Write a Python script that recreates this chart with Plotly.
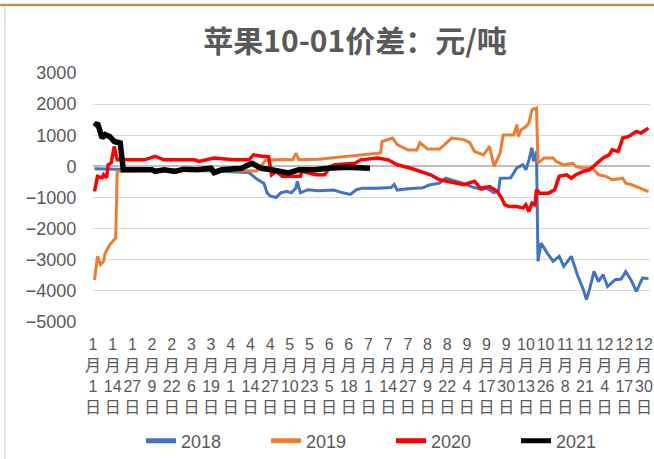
import plotly.graph_objects as go

# ---- data (day-of-year index, 0 = Jan 1) ----
tick_labels = ["1月1日", "1月14日", "1月27日", "2月9日", "2月22日", "3月6日", "3月19日",
               "4月1日", "4月14日", "4月27日", "5月10日", "5月23日", "6月5日", "6月18日",
               "7月1日", "7月14日", "7月27日", "8月9日", "8月22日", "9月4日", "9月17日",
               "9月30日", "10月13日", "10月26日", "11月8日", "11月21日", "12月4日",
               "12月17日", "12月30日"]
tick_days = [13 * i for i in range(len(tick_labels))]

days_2018 = [1, 18, 37, 57, 77, 93, 103, 108, 113, 115, 117, 121, 124, 128, 131, 134, 135, 137,
             142, 149, 159, 165, 170, 174, 178, 188, 197, 199, 201, 208, 218, 222, 229, 233, 237,
             244, 250, 257, 260, 265, 268, 269, 276, 280, 284, 286, 288, 290, 291, 293, 294, 296,
             300, 304, 308, 311, 316, 320, 324, 326, 328, 331, 334, 337, 340, 345, 349, 352, 356,
             359, 363, 367]
vals_2018 = [-80, -100, -120, -110, -150, -170, -200, -400, -550, -850, -950, -1000, -850, -800,
             -850, -700, -480, -850, -750, -780, -760, -850, -900, -750, -700, -700, -680, -580,
             -760, -720, -690, -600, -540, -380, -430, -540, -650, -750, -700, -850, -760, -380,
             -370, -50, 50, -110, 200, 600, 160, 480, -3050, -2460, -2780, -3050, -2890, -3210,
             -2890, -3480, -3960, -4280, -3960, -3370, -3700, -3480, -3860, -3640, -3620, -3380,
             -3700, -4020, -3590, -3600]

days_2019 = [1, 3, 5, 7, 8, 11, 13, 15, 16, 37, 70, 96, 108, 111, 114, 123, 132, 134, 136, 149,
             162, 175, 190, 191, 198, 201, 208, 214, 216, 221, 229, 231, 237, 245, 249, 252, 258,
             262, 265, 269, 271, 278, 280, 281, 283, 286, 288, 290, 293, 294, 298, 304, 306, 311,
             317, 319, 324, 330, 334, 339, 343, 350, 352, 356, 361, 367]
vals_2019 = [-3650, -2890, -3160, -3050, -2790, -2520, -2410, -2300, -160, -130, -120, -130, -150,
             0, 200, 220, 210, 430, 210, 230, 300, 350, 430, 800, 910, 700, 530, 530, 760, 560,
             560, 640, 910, 860, 760, 480, 370, 640, 0, 430, 1010, 1010, 1340, 960, 1180, 1280,
             1390, 1820, 1870, 100, 270, 270, 160, 50, 100, 0, -60, -60, -270, -320, -430, -380,
             -540, -590, -700, -810]

days_2020 = [1, 3, 6, 7, 9, 10, 12, 14, 16, 34, 41, 47, 67, 70, 80, 93, 103, 106, 113, 116, 118,
             121, 125, 137, 138, 147, 153, 157, 160, 173, 177, 188, 195, 201, 210, 216, 223, 229,
             239, 245, 252, 256, 262, 267, 270, 272, 275, 280, 284, 286, 288, 290, 292, 293, 295,
             301, 305, 308, 313, 316, 319, 324, 328, 332, 337, 341, 343, 347, 350, 354, 359, 362,
             367]
vals_2020 = [-800, -320, -370, -270, -370, 50, 110, 640, 210, 210, 320, 210, 210, 160, 270, 210,
             210, 370, 320, 320, -270, -160, -320, -320, -160, -270, -270, 0, 50, 100, 210, 270,
             210, 50, -60, -160, -270, -430, -540, -590, -480, -700, -650, -800, -1020, -1230,
             -1290, -1290, -1340, -1230, -1450, -1180, -1230, -750, -860, -860, -750, -320, -270,
             -380, -270, -160, -110, 50, 270, 370, 530, 480, 910, 960, 1120, 1070, 1230]

days_2021 = [1, 3, 6, 8, 11, 14, 18, 19, 20, 39, 41, 47, 54, 60, 69, 78, 80, 85, 93, 98, 105,
             111, 118, 129, 136, 147, 155, 168, 183]
vals_2021 = [1280, 1390, 910, 1020, 960, 800, 750, 0, -110, -110, -160, -110, -160, -90, -110,
             -60, -200, -110, -80, -60, 100, -60, -110, -210, -110, -110, -60, -30, -60]

series = [
    ("2018", days_2018, vals_2018, "#4472C4", 3),
    ("2019", days_2019, vals_2019, "#ED7D31", 3),
    ("2020", days_2020, vals_2020, "#FF0000", 3.5),
    ("2021", days_2021, vals_2021, "#000000", 5.5),
]

fig = go.Figure()
for name, d, v, c, w in series:
    fig.add_trace(go.Scatter(x=d, y=v, mode="lines", name=name, showlegend=False,
                             line=dict(color=c, width=w)))
# legend entries (uniform thick sample lines as in the original legend)
for name, d, v, c, w in series:
    fig.add_trace(go.Scatter(x=[None], y=[None], mode="lines", name=name,
                             line=dict(color=c, width=5)))


def vertical(label):
    m, rest = label.split("月")
    day = rest.replace("日", "")
    return f"{m}<br>月<br>{day}<br>日"


txt_color = "#595959"
W, H = 654, 459
L, R, T, B = 93, 4, 73, 137
pw, ph = W - L - R, H - T - B


def px(x):
    return (x - L) / pw


def py(y):
    return (H - B - y) / ph


fig.update_layout(
    width=W, height=H,
    margin=dict(l=L, r=R, t=T, b=B, autoexpand=False),
    paper_bgcolor="white", plot_bgcolor="white",
    font=dict(family="Liberation Sans, Noto Sans CJK SC", color=txt_color),
    title=dict(text="苹果10-01价差：元/吨", x=355 / W, xanchor="center",
               y=1 - 41 / H, yanchor="middle",
               font=dict(family="Noto Sans CJK SC", size=30, color=txt_color, weight="bold")),
    showlegend=True,
    legend=dict(orientation="h", x=px(141), xanchor="left", y=py(441), yanchor="middle",
                font=dict(size=18, color=txt_color), entrywidth=80, entrywidthmode="pixels"),
    xaxis=dict(range=[0, 368], tickmode="array", tickvals=tick_days,
               ticktext=[vertical(t) for t in tick_labels],
               showgrid=False, zeroline=False, showline=False, automargin=False,
               ticks="outside", ticklen=8, tickcolor="rgba(0,0,0,0)",
               ticklabeloverflow="allow",
               tickfont=dict(size=16, color=txt_color), tickangle=0),
    yaxis=dict(range=[-5000, 3000], dtick=1000, tick0=0, automargin=False,
               showgrid=True, gridcolor="#D9D9D9", gridwidth=1,
               zeroline=True, zerolinecolor="#BFBFBF", zerolinewidth=1.5,
               showline=False, ticks="outside", ticklen=12, tickcolor="rgba(0,0,0,0)",
               tickfont=dict(size=18, color=txt_color)),
    shapes=[
        dict(type="line", xref="paper", yref="paper", x0=px(0), x1=px(W), y0=py(5), y1=py(5),
             line=dict(color="#B8935A", width=2.5)),
        dict(type="line", xref="paper", yref="paper", x0=px(5), x1=px(5), y0=py(7), y1=py(H),
             line=dict(color="#D9D9D9", width=1.5)),
    ],
)

fig.write_html("out.html", config={"displayModeBar": False},
               post_script="document.body.style.margin='0';document.body.style.padding='0';")
